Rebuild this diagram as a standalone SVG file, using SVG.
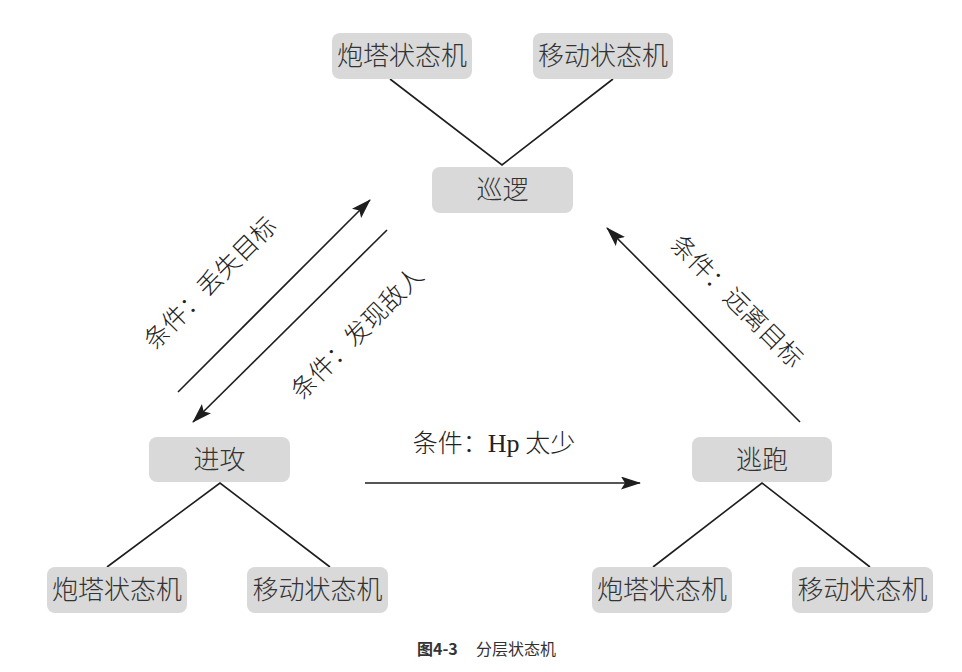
<svg xmlns="http://www.w3.org/2000/svg" width="962" height="672" viewBox="0 0 962 672">
<style>
  .box { fill: #d9d9d9; }
  .nt { font-family: "Noto Sans CJK SC", "Liberation Sans", sans-serif; font-size: 26px; font-weight: 300; fill: #333; text-anchor: middle; }
  .lbl { font-family: "Noto Sans CJK SC", "Liberation Sans", sans-serif; font-size: 25px; font-weight: 300; fill: #222; text-anchor: middle; }
  .tree { stroke: #1e1e1e; stroke-width: 1.6; fill: none; }
  .arr { stroke: #1e1e1e; stroke-width: 1.6; fill: none; marker-end: url(#ah); }
  .cap { font-family: "Noto Sans CJK SC", "Liberation Sans", sans-serif; font-size: 16px; fill: #333; }
</style>
<defs>
  <marker id="ah" markerUnits="userSpaceOnUse" markerWidth="22" markerHeight="14" refX="19" refY="6.5" orient="auto">
    <path d="M0,0 L20,6.5 L0,13 L4,6.5 Z" fill="#1e1e1e"/>
  </marker>
</defs>
<rect width="962" height="672" fill="#ffffff"/>

<g id="connectors">
  <path class="tree" d="M390,79 L502,165 L613,79"/>
  <path class="tree" d="M107,567 L220,483 L330,567"/>
  <path class="tree" d="M653,567 L762,483 L870,567"/>
  <line class="arr" x1="178" y1="392" x2="370" y2="200"/>
  <line class="arr" x1="387" y1="230" x2="193" y2="422"/>
  <line class="arr" x1="800" y1="422" x2="607" y2="228"/>
  <line class="arr" x1="365" y1="483" x2="640" y2="483"/>
  <text class="lbl" transform="translate(210,283) rotate(-45)" x="0" y="9">条件：丢失目标</text>
  <text class="lbl" transform="translate(357,333) rotate(-45)" x="0" y="9">条件：发现敌人</text>
  <text class="lbl" transform="translate(737,301) rotate(45)" x="0" y="9">条件：远离目标</text>
  <text class="lbl" x="494" y="452">条件：<tspan font-family="Liberation Serif, serif" font-size="26">Hp</tspan> 太少</text>
</g>

<g id="patrol"><rect class="box" x="432" y="167" width="141" height="46" rx="8"/><text class="nt" x="502.5" y="199">巡逻</text></g>
<g id="patrol-turret"><rect class="box" x="332" y="33" width="140" height="46" rx="8"/><text class="nt" x="402" y="65">炮塔状态机</text></g>
<g id="patrol-move"><rect class="box" x="533" y="33" width="140" height="46" rx="8"/><text class="nt" x="603" y="65">移动状态机</text></g>

<g id="attack"><rect class="box" x="149" y="437" width="141" height="45" rx="8"/><text class="nt" x="219.5" y="469">进攻</text></g>
<g id="attack-turret"><rect class="box" x="47" y="567" width="140" height="46" rx="8"/><text class="nt" x="117" y="599">炮塔状态机</text></g>
<g id="attack-move"><rect class="box" x="247" y="567" width="141" height="46" rx="8"/><text class="nt" x="317.5" y="599">移动状态机</text></g>

<g id="flee"><rect class="box" x="692" y="437" width="140" height="45" rx="8"/><text class="nt" x="762" y="469">逃跑</text></g>
<g id="flee-turret"><rect class="box" x="592" y="567" width="140" height="46" rx="8"/><text class="nt" x="662" y="599">炮塔状态机</text></g>
<g id="flee-move"><rect class="box" x="792" y="567" width="141" height="46" rx="8"/><text class="nt" x="862.5" y="599">移动状态机</text></g>

<text class="cap" x="417" y="655"><tspan font-weight="bold">图4-3</tspan><tspan x="476">分层状态机</tspan></text>
</svg>
